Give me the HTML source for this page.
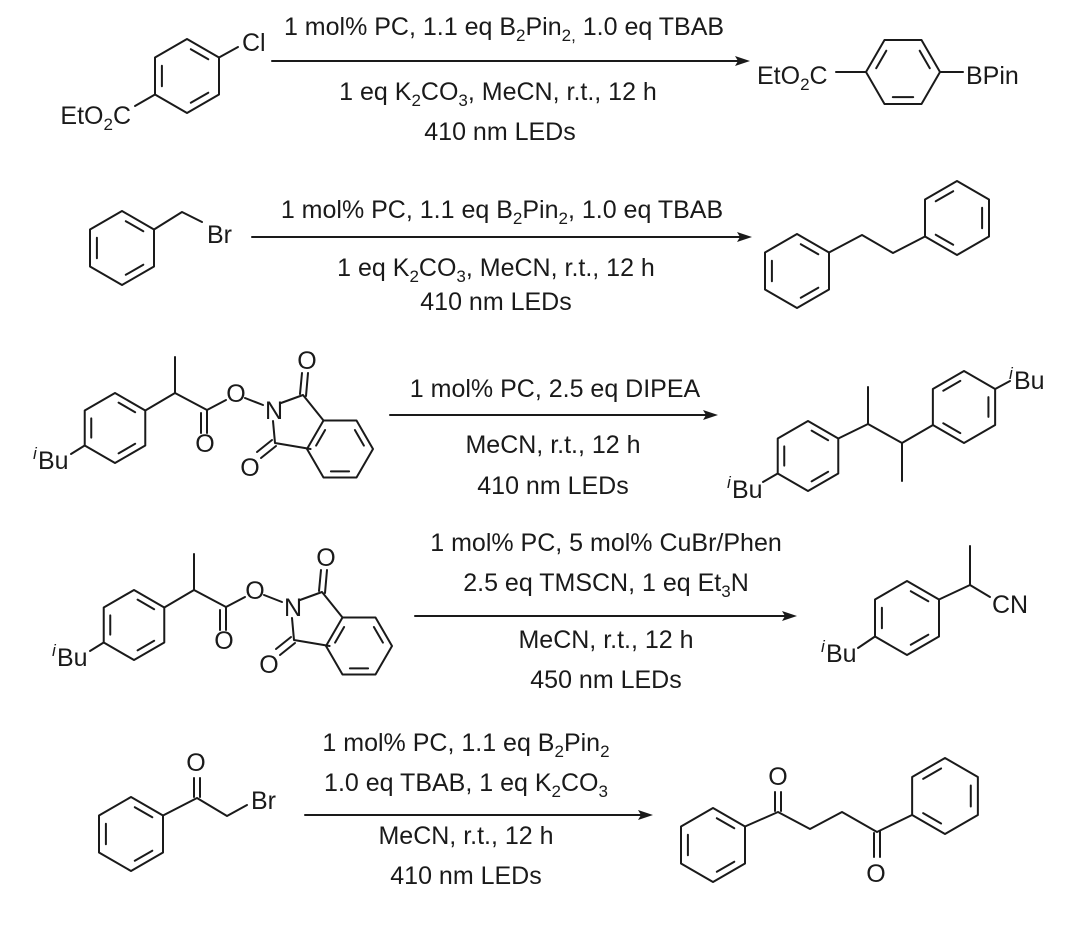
<!DOCTYPE html>
<html><head><meta charset="utf-8"><style>
html,body{margin:0;padding:0;background:#fff;}
svg{display:block;}
svg path,svg polygon,svg line,svg polyline{vector-effect:non-scaling-stroke;}
text{font-family:"Liberation Sans",Arial,sans-serif;fill:#1a1a1a;}
</style></head><body>
<svg width="1080" height="935" viewBox="0 0 1080 935" xmlns="http://www.w3.org/2000/svg">
<g fill="none" stroke="#1a1a1a" stroke-width="2" stroke-linejoin="round" stroke-linecap="round">
<!-- ROW 1 -->
<g transform="translate(187,76)"><polygon points="0,-37 32,-18.5 32,18.5 0,37 -32,18.5 -32,-18.5"/><path d="M3.8,-26.8 L21.3,-16.7 M21.3,16.7 L3.8,26.8 M-25.1,10.2 L-25.1,-10.2"/></g>
<line x1="219" y1="57.5" x2="238" y2="47"/>
<line x1="155" y1="94.5" x2="135" y2="106"/>
<line x1="836" y1="72" x2="866" y2="72"/>
<g transform="translate(903,72)"><polygon points="-37,0 -18.5,-32 18.5,-32 37,0 18.5,32 -18.5,32"/><path d="M-26.8,-3.8 L-16.7,-21.3 M16.7,-21.3 L26.8,-3.8 M10.2,25.1 L-10.2,25.1"/></g>
<line x1="940" y1="72" x2="963" y2="72"/>
<line x1="272" y1="61" x2="738" y2="61"/>
<!-- ROW 2 -->
<g transform="translate(122,248)"><polygon points="0,-37 32,-18.5 32,18.5 0,37 -32,18.5 -32,-18.5"/><path d="M3.8,-26.8 L21.3,-16.7 M21.3,16.7 L3.8,26.8 M-25.1,10.2 L-25.1,-10.2"/></g>
<polyline points="154,229.5 182,212 202,222"/>
<line x1="252" y1="237" x2="740" y2="237"/>
<g transform="translate(797,271)"><polygon points="0,-37 32,-18.5 32,18.5 0,37 -32,18.5 -32,-18.5"/><path d="M3.8,-26.8 L21.3,-16.7 M21.3,16.7 L3.8,26.8 M-25.1,10.2 L-25.1,-10.2"/></g>
<polyline points="829,252.5 862,235 893,253 925,236.5"/>
<g transform="translate(957,218)"><polygon points="0,-37 32,-18.5 32,18.5 0,37 -32,18.5 -32,-18.5"/><path d="M25.1,-10.2 L25.1,10.2 M-3.8,26.8 L-21.3,16.7 M-21.3,-16.7 L-3.8,-26.8"/></g>
<!-- ROW 3 SM -->
<g>
<g transform="translate(115,428) scale(0.946)"><polygon points="0,-37 32,-18.5 32,18.5 0,37 -32,18.5 -32,-18.5"/><path d="M3.8,-26.8 L21.3,-16.7 M21.3,16.7 L3.8,26.8 M-25.1,10.2 L-25.1,-10.2"/></g>
<line x1="84.7" y1="445.5" x2="71" y2="454"/>
<polyline points="145.3,410.5 175,393 207,410 226,400"/>
<line x1="175" y1="393" x2="175" y2="357"/>
<line x1="201" y1="413" x2="201" y2="433"/><line x1="207" y1="410" x2="207" y2="433"/>
<line x1="245" y1="398" x2="263" y2="405"/>
<polyline points="281,403 303,395 323.5,420.5"/>
<line x1="300" y1="394" x2="302" y2="373"/><line x1="306" y1="396" x2="308" y2="373"/>
<polyline points="310.6,449 275,443 273,421"/>
<line x1="272" y1="440" x2="257" y2="452"/><line x1="276" y1="446" x2="261" y2="458"/>
<g transform="translate(340,449) scale(0.892)"><polygon points="-37,0 -18.5,-32 18.5,-32 37,0 18.5,32 -18.5,32"/><path d="M-26.8,-3.8 L-16.7,-21.3 M16.7,-21.3 L26.8,-3.8 M10.2,25.1 L-10.2,25.1"/></g>
</g>
<line x1="390" y1="415" x2="706" y2="415"/>
<!-- ROW 3 product -->
<g transform="translate(808,456) scale(0.946)"><polygon points="0,-37 32,-18.5 32,18.5 0,37 -32,18.5 -32,-18.5"/><path d="M3.8,-26.8 L21.3,-16.7 M21.3,16.7 L3.8,26.8 M-25.1,10.2 L-25.1,-10.2"/></g>
<line x1="777.7" y1="473.5" x2="763" y2="482"/>
<polyline points="838.3,438.5 868,424 902,443 933,425"/>
<line x1="868" y1="424" x2="868" y2="387"/>
<line x1="902" y1="443" x2="902" y2="481"/>
<g transform="translate(964,407) scale(0.973)"><polygon points="0,-37 32,-18.5 32,18.5 0,37 -32,18.5 -32,-18.5"/><path d="M25.1,-10.2 L25.1,10.2 M-3.8,26.8 L-21.3,16.7 M-21.3,-16.7 L-3.8,-26.8"/></g>
<line x1="995.2" y1="389" x2="1010" y2="381"/>
<!-- ROW 4 SM -->
<g transform="translate(19,197)">
<g transform="translate(115,428) scale(0.946)"><polygon points="0,-37 32,-18.5 32,18.5 0,37 -32,18.5 -32,-18.5"/><path d="M3.8,-26.8 L21.3,-16.7 M21.3,16.7 L3.8,26.8 M-25.1,10.2 L-25.1,-10.2"/></g>
<line x1="84.7" y1="445.5" x2="71" y2="454"/>
<polyline points="145.3,410.5 175,393 207,410 226,400"/>
<line x1="175" y1="393" x2="175" y2="357"/>
<line x1="201" y1="413" x2="201" y2="433"/><line x1="207" y1="410" x2="207" y2="433"/>
<line x1="245" y1="398" x2="263" y2="405"/>
<polyline points="281,403 303,395 323.5,420.5"/>
<line x1="300" y1="394" x2="302" y2="373"/><line x1="306" y1="396" x2="308" y2="373"/>
<polyline points="310.6,449 275,443 273,421"/>
<line x1="272" y1="440" x2="257" y2="452"/><line x1="276" y1="446" x2="261" y2="458"/>
<g transform="translate(340,449) scale(0.892)"><polygon points="-37,0 -18.5,-32 18.5,-32 37,0 18.5,32 -18.5,32"/><path d="M-26.8,-3.8 L-16.7,-21.3 M16.7,-21.3 L26.8,-3.8 M10.2,25.1 L-10.2,25.1"/></g>
</g>
<line x1="415" y1="616" x2="785" y2="616"/>
<!-- ROW 4 product -->
<g transform="translate(907,618)"><polygon points="0,-37 32,-18.5 32,18.5 0,37 -32,18.5 -32,-18.5"/><path d="M3.8,-26.8 L21.3,-16.7 M21.3,16.7 L3.8,26.8 M-25.1,10.2 L-25.1,-10.2"/></g>
<line x1="875" y1="636.5" x2="858" y2="648"/>
<polyline points="939,599.5 970,585 990,597"/>
<line x1="970" y1="585" x2="970" y2="546"/>
<!-- ROW 5 -->
<g transform="translate(131,834)"><polygon points="0,-37 32,-18.5 32,18.5 0,37 -32,18.5 -32,-18.5"/><path d="M3.8,-26.8 L21.3,-16.7 M21.3,16.7 L3.8,26.8 M-25.1,10.2 L-25.1,-10.2"/></g>
<polyline points="163,815.5 197,798 227,816 247,805"/>
<line x1="194" y1="797" x2="194" y2="778"/><line x1="200" y1="797" x2="200" y2="778"/>
<line x1="305" y1="815" x2="641" y2="815"/>
<g transform="translate(713,845)"><polygon points="0,-37 32,-18.5 32,18.5 0,37 -32,18.5 -32,-18.5"/><path d="M3.8,-26.8 L21.3,-16.7 M21.3,16.7 L3.8,26.8 M-25.1,10.2 L-25.1,-10.2"/></g>
<polyline points="745,826.5 778,812 810,829 842,812 877,832 912,815"/>
<line x1="775" y1="811" x2="775" y2="792"/><line x1="781" y1="811" x2="781" y2="792"/>
<line x1="874" y1="833" x2="874" y2="857"/><line x1="880" y1="831" x2="880" y2="857"/>
<g transform="translate(945,796) scale(1.027)"><polygon points="0,-37 32,-18.5 32,18.5 0,37 -32,18.5 -32,-18.5"/><path d="M25.1,-10.2 L25.1,10.2 M-3.8,26.8 L-21.3,16.7 M-21.3,-16.7 L-3.8,-26.8"/></g>
</g>
<!-- arrowheads -->
<g fill="#1a1a1a">
<polygon points="750,61 735,56 738,61 735,66"/>
<polygon points="752,237 737,232 740,237 737,242"/>
<polygon points="718,415 703,410 706,415 703,420"/>
<polygon points="797,616 782,611 785,616 782,621"/>
<polygon points="653,815 638,810 641,815 638,820"/>
</g>
<!-- atom labels -->
<g font-size="25">
<text x="242" y="51">Cl</text>
<text x="131" y="124" text-anchor="end">EtO<tspan font-size="17" dy="6">2</tspan><tspan dy="-6">C</tspan></text>
<text x="757" y="84">EtO<tspan font-size="17" dy="6">2</tspan><tspan dy="-6">C</tspan></text>
<text x="966" y="84">BPin</text>
<text x="207" y="243">Br</text>
<!-- row3 sm -->
<text x="33" y="459" font-size="17" font-style="italic">i</text><text x="38" y="469">Bu</text>
<text x="205" y="452" text-anchor="middle">O</text>
<text x="236" y="402" text-anchor="middle">O</text>
<text x="274" y="419" text-anchor="middle">N</text>
<text x="307" y="369" text-anchor="middle">O</text>
<text x="250" y="476" text-anchor="middle">O</text>
<!-- row4 sm -->
<g transform="translate(19,197)">
<text x="33" y="459" font-size="17" font-style="italic">i</text><text x="38" y="469">Bu</text>
<text x="205" y="452" text-anchor="middle">O</text>
<text x="236" y="402" text-anchor="middle">O</text>
<text x="274" y="419" text-anchor="middle">N</text>
<text x="307" y="369" text-anchor="middle">O</text>
<text x="250" y="476" text-anchor="middle">O</text>
</g>
<!-- row3 product -->
<text x="727" y="488" font-size="17" font-style="italic">i</text><text x="732" y="498">Bu</text>
<text x="1009" y="379" font-size="17" font-style="italic">i</text><text x="1014" y="389">Bu</text>
<!-- row4 product -->
<text x="821" y="652" font-size="17" font-style="italic">i</text><text x="826" y="662">Bu</text>
<text x="992" y="613">CN</text>
<!-- row5 -->
<text x="196" y="771" text-anchor="middle">O</text>
<text x="251" y="809">Br</text>
<text x="778" y="785" text-anchor="middle">O</text>
<text x="876" y="882" text-anchor="middle">O</text>
</g>
<!-- conditions -->
<g font-size="25" text-anchor="middle">
<text x="504" y="35">1 mol% PC, 1.1 eq B<tspan font-size="17" dy="6">2</tspan><tspan dy="-6">Pin</tspan><tspan font-size="17" dy="6">2,</tspan><tspan dy="-6"> 1.0 eq TBAB</tspan></text>
<text x="498" y="100">1 eq K<tspan font-size="17" dy="6">2</tspan><tspan dy="-6">CO</tspan><tspan font-size="17" dy="6">3</tspan><tspan dy="-6">, MeCN, r.t., 12 h</tspan></text>
<text x="500" y="140">410 nm LEDs</text>

<text x="502" y="218">1 mol% PC, 1.1 eq B<tspan font-size="17" dy="6">2</tspan><tspan dy="-6">Pin</tspan><tspan font-size="17" dy="6">2</tspan><tspan dy="-6">, 1.0 eq TBAB</tspan></text>
<text x="496" y="276">1 eq K<tspan font-size="17" dy="6">2</tspan><tspan dy="-6">CO</tspan><tspan font-size="17" dy="6">3</tspan><tspan dy="-6">, MeCN, r.t., 12 h</tspan></text>
<text x="496" y="310">410 nm LEDs</text>

<text x="555" y="397">1 mol% PC, 2.5 eq DIPEA</text>
<text x="553" y="453">MeCN, r.t., 12 h</text>
<text x="553" y="494">410 nm LEDs</text>

<text x="606" y="551">1 mol% PC, 5 mol% CuBr/Phen</text>
<text x="606" y="591">2.5 eq TMSCN, 1 eq Et<tspan font-size="17" dy="6">3</tspan><tspan dy="-6">N</tspan></text>
<text x="606" y="648">MeCN, r.t., 12 h</text>
<text x="606" y="688">450 nm LEDs</text>

<text x="466" y="751">1 mol% PC, 1.1 eq B<tspan font-size="17" dy="6">2</tspan><tspan dy="-6">Pin</tspan><tspan font-size="17" dy="6">2</tspan></text>
<text x="466" y="791">1.0 eq TBAB, 1 eq K<tspan font-size="17" dy="6">2</tspan><tspan dy="-6">CO</tspan><tspan font-size="17" dy="6">3</tspan></text>
<text x="466" y="844">MeCN, r.t., 12 h</text>
<text x="466" y="884">410 nm LEDs</text>
</g>
</svg>
</body></html>
